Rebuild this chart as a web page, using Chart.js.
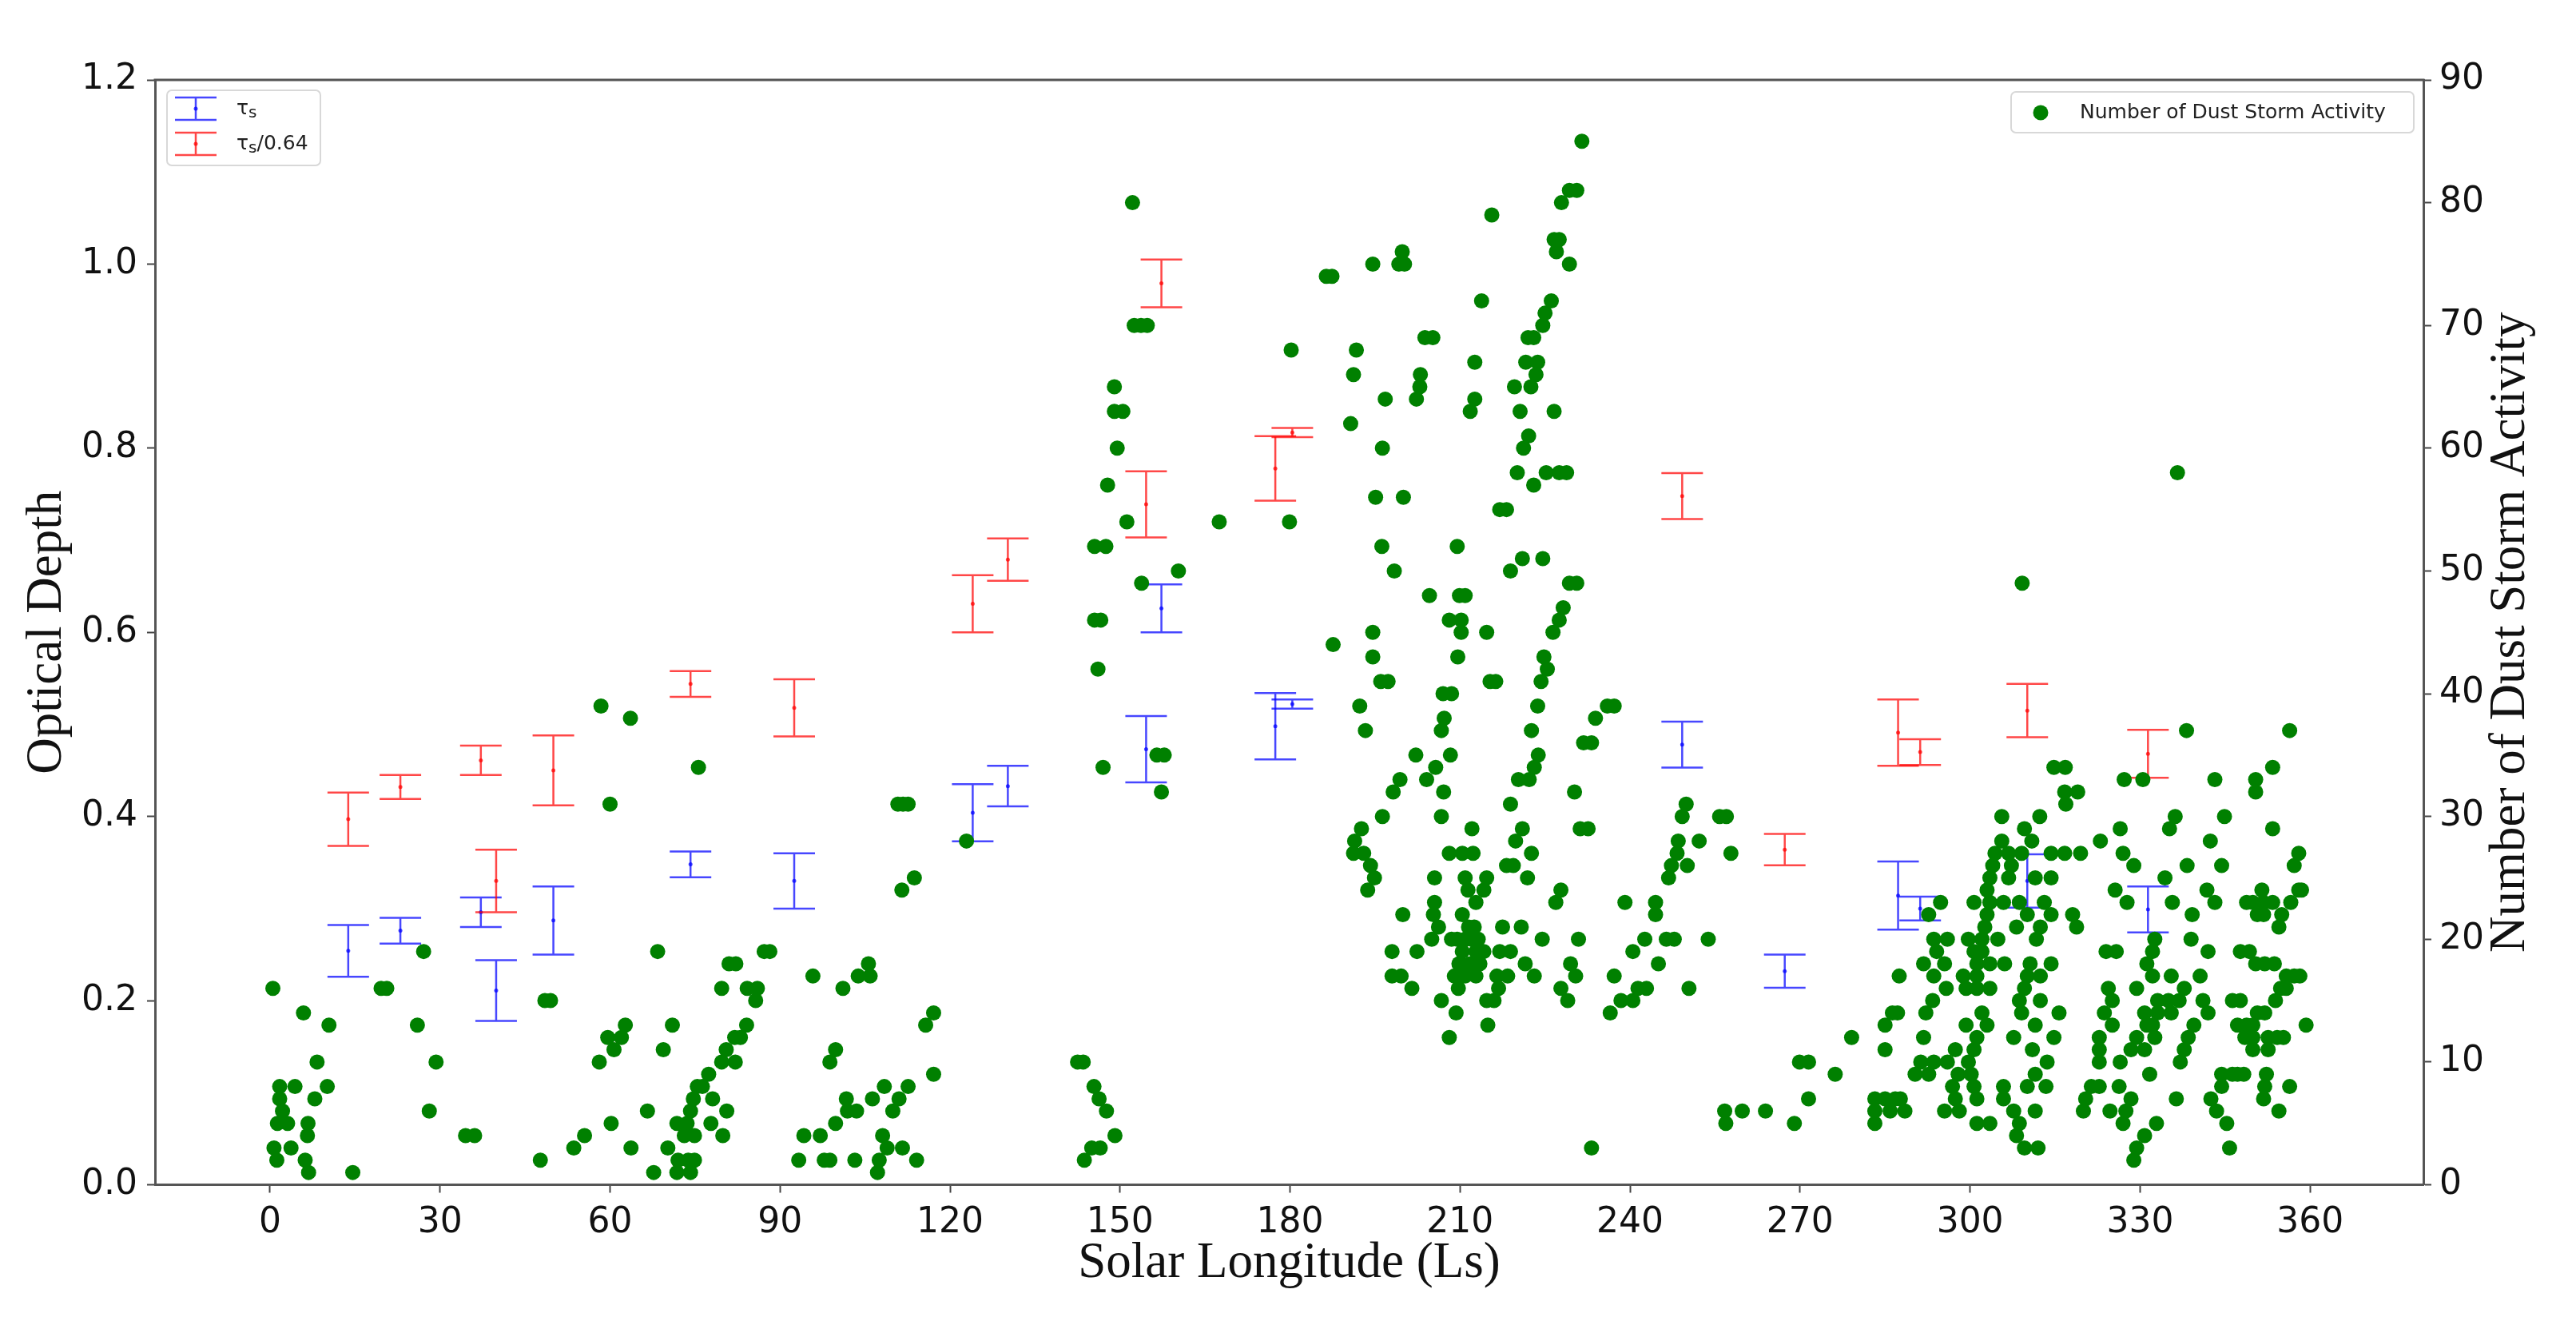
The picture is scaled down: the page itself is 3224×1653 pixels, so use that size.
<!DOCTYPE html>
<html lang="en">
  <head>
    <meta charset="UTF-8">
    <title>Optical depth and dust storm activity vs solar longitude</title>
    <script src="https://cdn.jsdelivr.net/npm/chart.js@4.4.0/dist/chart.umd.min.js"></script>
    <style>
      html, body { margin: 0; padding: 0; background: #fff; }
      canvas { display: block; }
    </style>
  </head>
  <body>
    <canvas id="chart" width="3224" height="1653"></canvas>
    <script type="text/javascript">
      // axis ticks
      const xTicks = [0, 30, 60, 90, 120, 150, 180, 210, 240, 270, 300, 330, 360]
      const yTicks = [0, 0.2, 0.4, 0.6, 0.8, 1.0, 1.2]
      const y2Ticks = [0, 10, 20, 30, 40, 50, 60, 70, 80, 90]

      // optical depth with error bars (tau_s and tau_s / 0.64)
      const tauLs = [13.8, 23, 37.2, 39.9, 50, 74.2, 92.5, 124, 130.2, 154.6, 157.3, 177.4, 180.4, 249.2, 267.3, 287.3, 291.2, 310.1, 331.4]
      const tauS = [0.254, 0.276, 0.296, 0.211, 0.287, 0.348, 0.330, 0.404, 0.433, 0.473, 0.626, 0.498, 0.522, 0.478, 0.232, 0.314, 0.300, 0.330, 0.299]
      const tauErr = [0.028, 0.014, 0.016, 0.033, 0.037, 0.014, 0.030, 0.031, 0.022, 0.036, 0.026, 0.036, 0.005, 0.025, 0.018, 0.037, 0.013, 0.029, 0.025]
      const tauScaled = [0.397, 0.432, 0.461, 0.330, 0.450, 0.544, 0.518, 0.631, 0.679, 0.739, 0.979, 0.778, 0.817, 0.748, 0.364, 0.491, 0.470, 0.515, 0.468]
      const tauScaledErr = [0.029, 0.013, 0.016, 0.034, 0.038, 0.014, 0.031, 0.031, 0.023, 0.036, 0.026, 0.035, 0.005, 0.025, 0.017, 0.036, 0.014, 0.029, 0.026]

      // dust storm activity: [Ls, count]
      const dustStorms = [
        [0.5,16],[5.9,14],[10.4,13],[8.3,10],[1.7,8],[4.4,8],[10.1,8],[1.7,7],[7.9,7],[2.2,6],[1.3,5],[3.1,5],[6.7,5],[6.6,4],[0.7,3],[3.7,3],[1.2,2],[6.2,2],[6.8,1],[14.6,1],
        [19.6,16],[20.6,16],[27.1,19],[26,13],[29.3,10],[28.1,6],[34.5,4],[36.1,4],
        [48.5,15],[49.5,15],[47.7,2],[53.6,3],[55.5,4],[58.4,39],[63.6,38],[60,31],[58.1,10],[59.6,12],[60.7,11],[62,12],[62.7,13],[60.2,5],[63.7,3],
        [66.6,6],[67.7,1],[68.4,19],[69.4,11],[71,13],[75.6,34],[71.8,5],[70.2,3],[73.1,4],[72,2],[71.8,1],[73.8,2],[74.2,1],[74.9,2],[74.2,6],[74.7,7],[75.4,8],[73.6,5],[74.9,4],[76.3,8],[77.4,9],[77.8,5],[78.1,7],[79.9,4],[80.6,6],[79.7,10],[80.5,11],[82.1,10],[82,12],[83,12],[84.1,13],[79.7,16],[81,18],[82.2,18],[84.2,16],[86,16],[85.7,15],[87.2,19],[88.2,19],
        [93.3,2],[94.2,4],[97.1,4],[97.8,2],[98.8,2],[95.8,17],[98.8,10],[99.8,11],[99.8,5],[101.1,16],[101.7,7],[101.9,6],[103.5,6],[103.2,2],[103.8,17],[105.6,18],[105.9,17],[106.3,7],[107.2,1],[107.5,2],[108.1,4],[108.4,8],[108.9,3],[109.9,6],[111,7],[111.6,3],[111.5,24],[113.7,25],[110.8,31],[111.7,31],[112.6,31],[112.6,8],[114.1,2],[115.7,13],[117.1,14],[117.1,9],
        [122.9,28],
        [142.5,10],[143.5,10],[145.4,8],[146.3,7],[147.6,6],[149.1,4],[143.7,2],[145,3],[146.5,3],
        [147,34],[146.1,42],[145.5,46],[146.6,46],[145.5,52],[147.5,52],[147.8,57],[151.2,54],[149.5,60],[149,63],[150.5,63],[149,65],[152.2,80],[152.5,70],[153.7,70],[154.8,70],[153.8,49],[160.3,50],[156.5,35],[157.8,35],[157.3,32],[167.5,54],[179.9,54],[180.2,68],
        [186.4,74],[187.4,74],[187.6,44],[190.7,62],[191.2,66],[191.7,68],[194.6,75],[196.3,60],[196.8,64],[195.1,56],[196.2,52],[198.4,50],[194.6,45],[194.6,43],[196,41],[197.3,41],[192.3,39],[199.2,75],[200.2,75],[199.8,76],[200,56],[202.3,64],[203,66],[202.9,65],[203.8,69],[205.2,69],[204.6,48],[209.5,52],[209.9,48],[210.9,48],[208.1,46],[210.2,46],[210.2,45],[209.6,43],[207,40],[208.5,40],[207.2,38],[212.6,67],[212.6,64],[211.8,63],
        [231.5,85],[229.3,81],[230.6,81],[227.9,80],[215.6,79],[226.6,77],[227.5,77],[227,76],[229.3,75],[213.8,72],[226.1,72],[225,71],[224.6,70],[222,69],[223,69],[221.6,67],[223.7,67],[223.4,66],[222.5,65],[219.6,65],[220.6,63],[226.6,63],[222.1,61],[221.2,60],[220.1,58],[223,57],[225.2,58],[227.5,58],[228.8,58],[217,55],[218.2,55],[218.9,50],[221,51],[224.6,51],[229.3,49],[230.6,49],[228.2,47],[227.5,46],[226.4,45],[214.7,45],[224.8,43],[225.4,42],[224.3,41],[215.3,41],[216.3,41],[223.7,39],[236,39],[237.2,39],[233.9,38],
        [191.4,28],[191.2,27],
        [193.3,37],[206.7,37],[222.6,37],[231.8,36],[233.2,36],[202.2,35],[208.3,35],[223.8,35],[205.7,34],[223.1,34],[199.4,33],[204.1,33],[220.3,33],[222.2,33],[198.2,32],[207.1,32],[230.2,32],[218.9,31],[196.3,30],[206.7,30],[249.9,31],[249.2,30],[192.6,29],[212.1,29],[221,29],[231.2,29],[232.6,29],[219.8,28],[248.5,28],[248.3,27],[193,27],[208.1,27],[210.4,27],[212.3,27],[222.6,27],[194.2,26],[218.2,26],[219.4,26],[247.3,26],[250.1,26],[194.9,25],[205.5,25],[210.9,25],[214.7,25],[221.9,25],[246.8,25],[193.7,24],[211.4,24],[214.2,24],[227.8,24],[212.8,23],[205.5,23],[226.9,23],[239.1,23],[244.5,23],[199.9,22],[205.3,22],[210.4,22],[244.5,22],[206.2,21],[211.5,21],[212.5,21],[217.5,21],[220.8,21],[205,20],[208.5,20],[209.5,20],[210.9,20],[212,20],[213.2,20],[224.5,20],[230.9,20],[242.6,20],[246.4,20],[247.8,20],[198,19],[202.4,19],[210.4,19],[212.8,19],[214.2,19],[217,19],[218.9,19],[240.5,19],[209.8,18],[210,18],[211.8,18],[213.5,18],[221.5,18],[229.5,18],[245,18],[198,17],[199.6,17],[209,17],[210.9,17],[212.8,17],[216.5,17],[218.4,17],[223.1,17],[230.4,17],[237.2,17],[201.5,16],[209.7,16],[216.8,16],[227.8,16],[241.4,16],[242.9,16],[250.4,16],[216,15],[214.7,15],[206.7,15],[229,15],[238.4,15],[240.5,15],[236.5,14],[209.3,14],[214.9,13],[208.1,12],[233.2,3],
        [252.2,28],[255.8,30],[257,30],[257.8,27],[253.8,20],[256.7,6],[256.9,5],[259.8,6],[263.9,6],[269,5],[271.5,7],[269.9,10],[271.5,10],[276.2,9],[279.1,12],[285,11],[283.2,7],[285,7],[286.8,7],[287.7,7],[283.2,6],[285.9,6],[288.5,6],[283.2,5],[287.5,17],[286.3,14],[287.2,14],[285,13],
        [338.2,37],[314.8,34],[316.8,34],[327.2,33],[330.5,33],[343.2,33],[316.7,32],[319,32],[316.9,31],[305.6,30],[312.3,30],[336.2,30],[335.2,29],[344.9,30],[309.6,29],[326.5,29],[305.6,28],[310.9,28],[323,28],[342.4,28],[304.4,27],[306.8,27],[309.1,27],[314.3,27],[316.7,27],[319.5,27],[327,27],[328.9,26],[338.3,26],[344.4,26],[304,26],[307.3,26],[303.5,25],[306.8,25],[311.5,25],[314.3,25],[334.4,25],[303,24],[325.6,24],[341.8,24],[343.2,23],[294.8,23],[300.7,23],[303.5,23],[305.9,23],[308.7,23],[313.1,23],[327.7,23],[335.7,23],[292.7,22],[303,22],[310.1,22],[314.3,22],[318.1,22],[339.2,22],[302.6,21],[308.2,21],[312.4,21],[318.8,21],[293.6,20],[296,20],[299.7,20],[302.1,20],[304.9,20],[311.7,20],[332.6,20],[339,20],[294.1,19],[300.7,19],[302.1,19],[324,19],[325.8,19],[332.2,19],[342,19],[291.8,18],[295.5,18],[301.2,18],[303.5,18],[306.1,18],[310.6,18],[314.3,18],[331.2,18],[293.6,17],[298.8,17],[301.2,17],[310.1,17],[312.4,17],[332.2,17],[335.5,17],[340.6,17],[295.8,16],[299.3,16],[301.2,16],[303.5,16],[309.6,16],[324.4,16],[329.4,16],[337.8,16],[293.4,15],[308.7,15],[312.4,15],[325.1,15],[333.1,15],[335,15],[336.9,15],[341.1,15],[346.3,15],[292.2,14],[302.1,14],[309.1,14],[315.7,14],[323.7,14],[330.8,14],[333.1,14],[335.5,14],[342,14],[299.3,13],[303,13],[311.5,13],[325.1,13],[331.2,13],[332.2,13],[339.5,13],[291.8,12],[301.2,12],[307.7,12],[314.8,12],[322.8,12],[329.4,12],[332.6,12],[338.5,12],[297.4,11],[300.7,11],[311,11],[322.8,11],[328.4,11],[330.8,11],[337.8,11],[291.3,10],[293.6,10],[296,10],[299.7,10],[313.6,10],[322.8,10],[326.5,10],[337.1,10],[290.3,9],[292.7,9],[297.9,9],[300.2,9],[311.5,9],[331.7,9],[344.4,9],[346.3,9],[296.9,8],[300.7,8],[305.9,8],[310.1,8],[313.4,8],[321.4,8],[322.8,8],[326.3,8],[344.4,8],[297.4,7],[301.2,7],[305.9,7],[320.4,7],[328.4,7],[336.4,7],[342.5,7],[295.5,6],[298.1,6],[307.7,6],[311.5,6],[320,6],[324.7,6],[327.5,6],[343.5,6],[301.2,5],[303.5,5],[308.7,5],[327,5],[332.9,5],[345.3,5],[308.2,4],[330.8,4],[309.6,3],[312,3],[329.4,3],[345.8,3],[328.9,2],[309.2,49],[336.6,58],
        [347.2,9],[348.3,9],[350.4,33],[350.4,32],[353.4,34],[353.4,29],[348.8,23],[349.9,23],[351.5,24],[351.8,23],[350.7,22],[351.8,22],[353.4,23],[355,22],[354.5,21],[356.6,23],[358,24],[358.5,24],[357.2,26],[358,27],[347.7,19],[349.3,19],[350.4,18],[352,18],[353.7,18],[355.8,17],[357.2,17],[358.2,17],[354.8,16],[355.8,16],[353.9,15],[347.7,15],[350.7,14],[352,14],[347.2,13],[348.8,13],[349.9,13],[348.5,12],[349.9,12],[352.6,12],[354.2,12],[355.3,12],[349.9,11],[352.6,11],[352.3,9],[352,8],[351.8,7],[356.4,8],[354.5,6],[359.3,13],[356.4,37]
      ]

      const blue = 'rgba(0, 0, 255, 0.72)'
      const red = 'rgba(255, 0, 0, 0.72)'
      const green = '#008000'
      const tickFont = { family: 'DejaVu Sans', size: 44 }
      const titleFont = { family: 'Liberation Serif', size: 63 }

      function drawErrorBar(ctx, x, yLow, yMid, yHigh, color) {
        ctx.strokeStyle = color
        ctx.fillStyle = color
        ctx.lineWidth = 2.5
        ctx.beginPath()
        ctx.moveTo(x, yLow); ctx.lineTo(x, yHigh)
        ctx.moveTo(x - 26, yLow); ctx.lineTo(x + 26, yLow)
        ctx.moveTo(x - 26, yHigh); ctx.lineTo(x + 26, yHigh)
        ctx.stroke()
        ctx.beginPath()
        ctx.arc(x, yMid, 2.5, 0, Math.PI * 2)
        ctx.fill()
      }

      const errorBars = {
        id: 'errorBars',
        beforeDatasetsDraw(chart) {
          const { ctx, scales: { x, y } } = chart
          ctx.save()
          const series = [[tauS, tauErr, blue], [tauScaled, tauScaledErr, red]]
          series.forEach(([vals, errs, color]) => {
            tauLs.forEach((ls, i) => {
              drawErrorBar(ctx, x.getPixelForValue(ls),
                y.getPixelForValue(vals[i] - errs[i]),
                y.getPixelForValue(vals[i]),
                y.getPixelForValue(vals[i] + errs[i]), color)
            })
          })
          ctx.restore()
        }
      }

      // legend text for tau_s, with a lowered s
      function drawTauLabel(ctx, x, y, rest) {
        ctx.font = '25px "DejaVu Sans"'
        ctx.fillText('τ', x, y)
        x += ctx.measureText('τ').width
        ctx.font = '20px "DejaVu Sans"'
        ctx.fillText('s', x, y + 6)
        x += ctx.measureText('s').width
        ctx.font = '25px "DejaVu Sans"'
        ctx.fillText(rest, x, y)
      }

      const frameAndLegends = {
        id: 'frameAndLegends',
        afterDraw(chart) {
          const { ctx, chartArea: a, scales: { y2 } } = chart
          ctx.save()
          // top spine
          ctx.strokeStyle = '#555'
          ctx.lineWidth = 3
          ctx.beginPath()
          ctx.moveTo(a.left - 1.5, a.top); ctx.lineTo(a.right + 1.5, a.top)
          ctx.stroke()

          const box = (bx, by, w, h) => {
            ctx.fillStyle = 'rgba(255,255,255,0.8)'
            ctx.strokeStyle = '#d8d8d8'
            ctx.lineWidth = 2
            ctx.beginPath()
            ctx.roundRect(bx, by, w, h, 6)
            ctx.fill(); ctx.stroke()
          }
          ctx.textBaseline = 'middle'
          ctx.textAlign = 'left'

          // errorbar legend, upper left
          box(a.left + 15, a.top + 13, 192, 94)
          const sym = [['', blue, 36], ['/0.64', red, 80]]
          sym.forEach(([rest, color, dy]) => {
            const cx = a.left + 51, cy = a.top + dy
            drawErrorBar(ctx, cx, cy + 14, cy, cy - 14, color)
            ctx.fillStyle = '#222'
            drawTauLabel(ctx, a.left + 102, cy, rest)
          })

          // scatter legend, upper right
          box(a.right - 516, a.top + 15, 504, 51)
          ctx.fillStyle = green
          ctx.beginPath()
          ctx.arc(a.right - 479, a.top + 41, 9.5, 0, Math.PI * 2)
          ctx.fill()
          ctx.fillStyle = '#222'
          ctx.font = '25px "DejaVu Sans"'
          ctx.fillText(chart.data.datasets[0].label, a.right - 430, a.top + 41)

          // right axis title, reading bottom to top
          ctx.translate(y2.right - 82, (a.top + a.bottom) / 2)
          ctx.rotate(-Math.PI / 2)
          ctx.font = `${titleFont.size}px "${titleFont.family}"`
          ctx.textAlign = 'center'
          ctx.fillStyle = '#111'
          ctx.fillText('Number of Dust Storm Activity', 0, 0)
          ctx.restore()
        }
      }

      const axisGrid = {
        display: true,
        drawOnChartArea: false,
        drawTicks: true,
        tickLength: 10,
        tickWidth: 2,
        tickColor: '#444'
      }
      const axisBorder = { display: true, color: '#555', width: 3 }

      const ctx = document.getElementById('chart').getContext('2d')
      const chart = new Chart(ctx, {
        type: 'scatter',
        data: {
          datasets: [
            {
              label: 'Number of Dust Storm Activity',
              data: dustStorms.map(([ls, n]) => ({ x: ls, y: n })),
              yAxisID: 'y2',
              backgroundColor: green,
              borderColor: green,
              borderWidth: 0,
              pointRadius: 9.5,
              pointHoverRadius: 9.5
            }
          ]
        },
        options: {
          responsive: false,
          devicePixelRatio: 1,
          animation: false,
          events: [],
          layout: { padding: { top: 100, left: 0, right: 0, bottom: 0 } },
          plugins: {
            legend: { display: false },
            tooltip: { enabled: false }
          },
          scales: {
            x: {
              type: 'linear',
              position: 'bottom',
              min: -20.3,
              max: 380,
              afterBuildTicks: s => { s.ticks = xTicks.map(v => ({ value: v })) },
              afterFit: s => { s.height = 170.5 },
              ticks: { font: tickFont, color: '#111', padding: 12, maxRotation: 0 },
              grid: axisGrid,
              border: axisBorder,
              title: {
                display: true,
                text: 'Solar Longitude (Ls)',
                font: titleFont,
                color: '#111',
                padding: { top: 0, bottom: 34 }
              }
            },
            y: {
              type: 'linear',
              position: 'left',
              min: 0,
              max: 1.2,
              afterBuildTicks: s => { s.ticks = yTicks.map(v => ({ value: v })) },
              afterFit: s => { s.width = 194 },
              ticks: { font: tickFont, color: '#111', padding: 12, callback: v => v.toFixed(1) },
              grid: axisGrid,
              border: axisBorder,
              title: {
                display: true,
                text: 'Optical Depth',
                font: titleFont,
                color: '#111',
                padding: { top: 22, bottom: 0 }
              }
            },
            y2: {
              type: 'linear',
              position: 'right',
              min: 0,
              max: 90,
              afterBuildTicks: s => { s.ticks = y2Ticks.map(v => ({ value: v })) },
              afterFit: s => { s.width = 191 },
              ticks: { font: tickFont, color: '#111', padding: 10 },
              grid: axisGrid,
              border: axisBorder
            }
          }
        },
        plugins: [errorBars, frameAndLegends]
      })
    </script>
  </body>
</html>
